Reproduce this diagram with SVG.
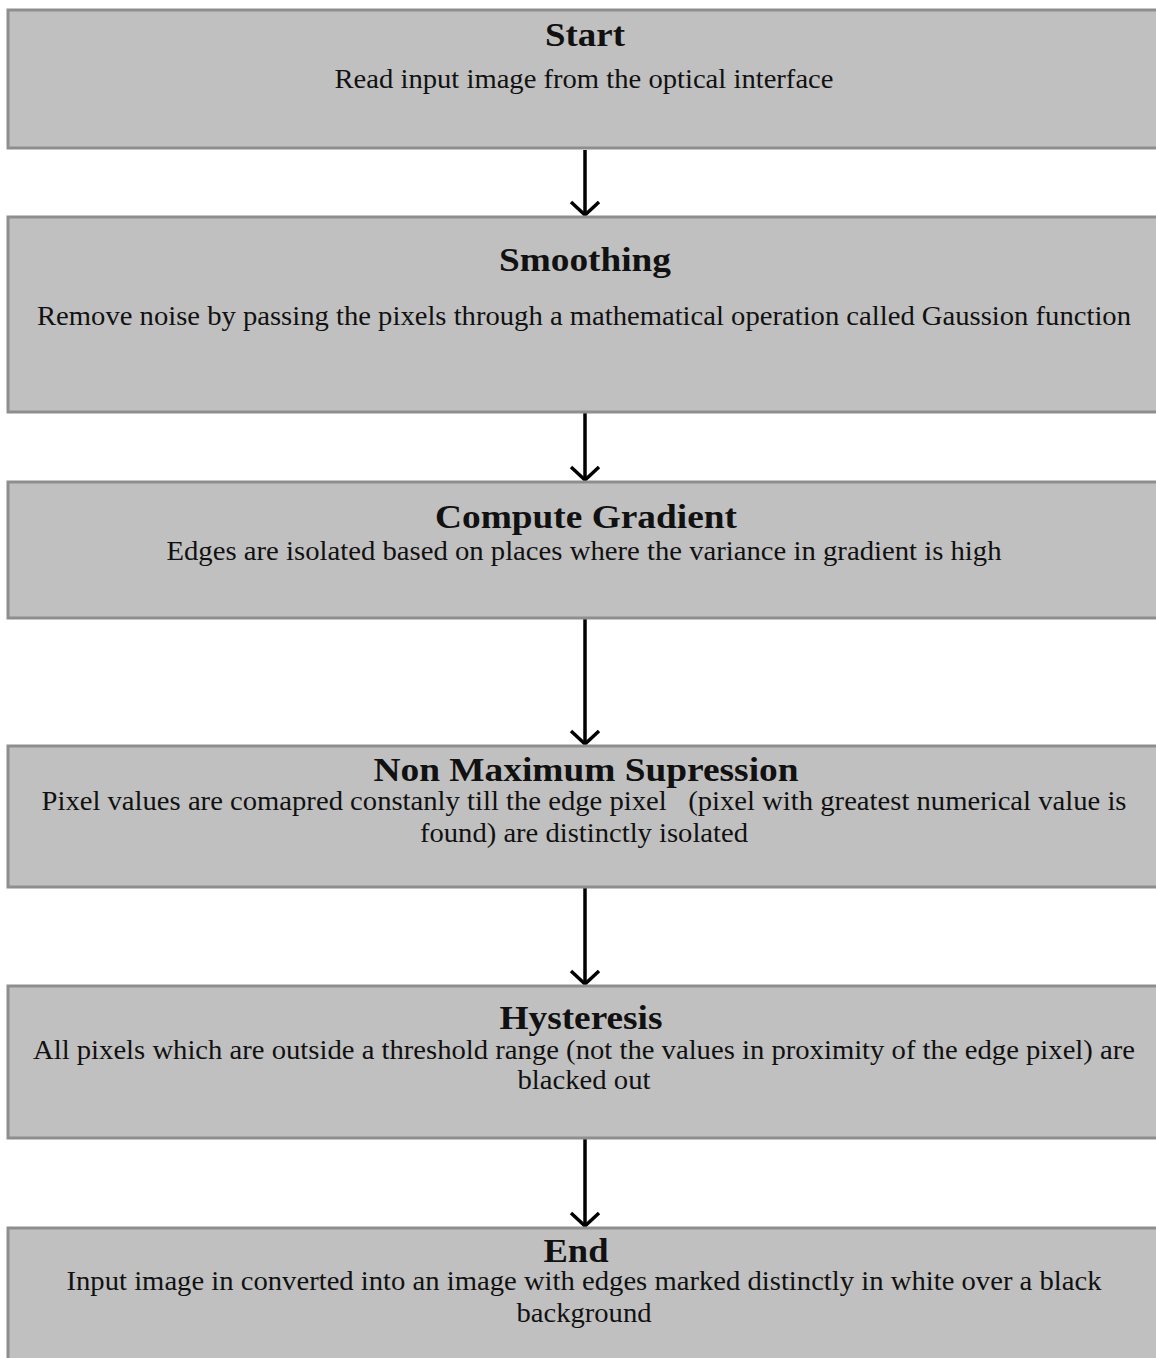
<svg xmlns="http://www.w3.org/2000/svg" width="1156" height="1358" viewBox="0 0 1156 1358">
<defs>
<style>
.box{fill:#c0c0c0;stroke:#8e8e8e;stroke-width:3}
.t{font-family:"Liberation Serif","Times New Roman",serif;font-weight:bold;font-size:34px;fill:#111;text-anchor:middle}
.b{font-family:"Liberation Serif","Times New Roman",serif;font-size:27px;fill:#111;text-anchor:middle}
.c{stroke:#000;stroke-width:3.5;fill:none}
</style>
<marker id="ah" viewBox="-16 -16 18 32" markerWidth="18" markerHeight="32" refX="0" refY="0" orient="auto" markerUnits="userSpaceOnUse">
<path d="M-13,-14 L0,0 L-13,14" fill="none" stroke="#000" stroke-width="3.5"/>
</marker>
</defs>
<rect width="1156" height="1358" fill="#fff"/>
<g id="connectors">
<line class="c" x1="585" y1="150" x2="585" y2="215" marker-end="url(#ah)"/>
<line class="c" x1="585" y1="413" x2="585" y2="480" marker-end="url(#ah)"/>
<line class="c" x1="585" y1="619" x2="585" y2="744" marker-end="url(#ah)"/>
<line class="c" x1="585" y1="888" x2="585" y2="984" marker-end="url(#ah)"/>
<line class="c" x1="585" y1="1139" x2="585" y2="1226" marker-end="url(#ah)"/>
</g>
<g id="start">
<rect class="box" x="8" y="10" width="1160" height="138"/>
<text class="t" x="585" y="46" textLength="80" lengthAdjust="spacingAndGlyphs">Start</text>
<text class="b" x="584" y="88" textLength="499" lengthAdjust="spacingAndGlyphs">Read input image from the optical interface</text>
</g>
<g id="smoothing">
<rect class="box" x="8" y="217" width="1160" height="195"/>
<text class="t" x="585" y="271" textLength="172" lengthAdjust="spacingAndGlyphs">Smoothing</text>
<text class="b" x="584" y="325" textLength="1094" lengthAdjust="spacingAndGlyphs">Remove noise by passing the pixels through a mathematical operation called Gaussion function</text>
</g>
<g id="gradient">
<rect class="box" x="8" y="482" width="1160" height="136"/>
<text class="t" x="586" y="528" textLength="302" lengthAdjust="spacingAndGlyphs">Compute Gradient</text>
<text class="b" x="584" y="560" textLength="835" lengthAdjust="spacingAndGlyphs">Edges are isolated based on places where the variance in gradient is high</text>
</g>
<g id="nms">
<rect class="box" x="8" y="746" width="1160" height="141"/>
<text class="t" x="586" y="781" textLength="425" lengthAdjust="spacingAndGlyphs">Non Maximum Supression</text>
<text class="b" x="584" y="810" textLength="1085" lengthAdjust="spacingAndGlyphs" xml:space="preserve">Pixel values are comapred constanly till the edge pixel   (pixel with greatest numerical value is</text>
<text class="b" x="584" y="842" textLength="328" lengthAdjust="spacingAndGlyphs">found) are distinctly isolated</text>
</g>
<g id="hysteresis">
<rect class="box" x="8" y="986" width="1160" height="152"/>
<text class="t" x="581" y="1029" textLength="163" lengthAdjust="spacingAndGlyphs">Hysteresis</text>
<text class="b" x="584" y="1059" textLength="1102" lengthAdjust="spacingAndGlyphs">All pixels which are outside a threshold range (not the values in proximity of the edge pixel) are</text>
<text class="b" x="584" y="1089" textLength="133" lengthAdjust="spacingAndGlyphs">blacked out</text>
</g>
<g id="end">
<rect class="box" x="8" y="1228" width="1160" height="140"/>
<text class="t" x="576" y="1262" textLength="65" lengthAdjust="spacingAndGlyphs">End</text>
<text class="b" x="584" y="1290" textLength="1035" lengthAdjust="spacingAndGlyphs">Input image in converted into an image with edges marked distinctly in white over a black</text>
<text class="b" x="584" y="1322" textLength="135" lengthAdjust="spacingAndGlyphs">background</text>
</g>
</svg>
